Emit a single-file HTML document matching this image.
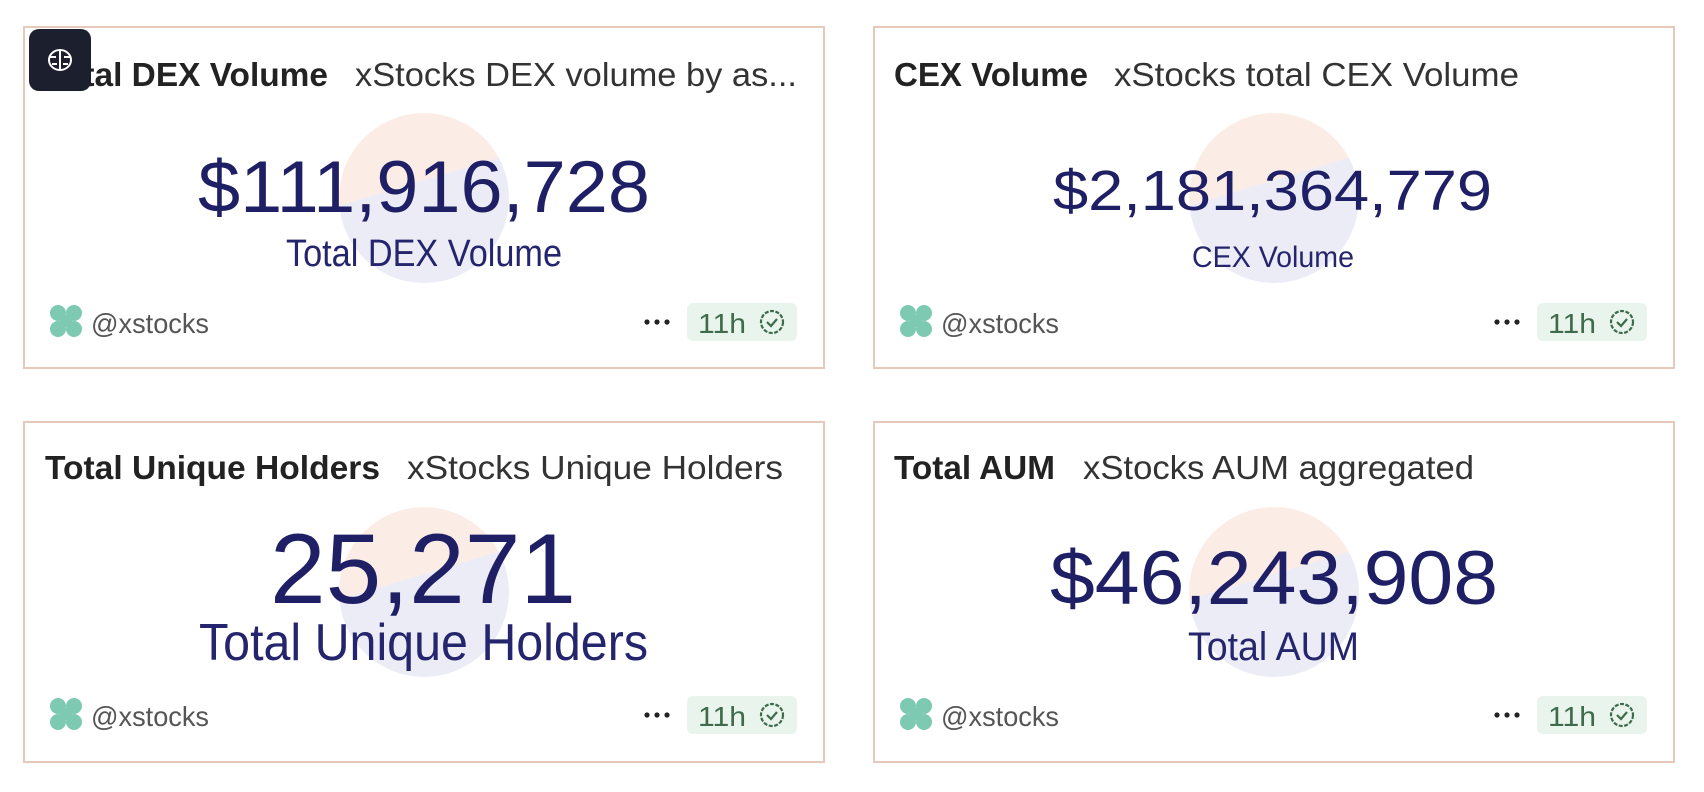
<!DOCTYPE html>
<html><head><meta charset="utf-8"><style>html,body{margin:0;padding:0;background:#fff;}svg{display:block;}</style></head>
<body>
<svg width="1704" height="792" viewBox="0 0 1704 792" xmlns="http://www.w3.org/2000/svg" font-family="'Liberation Sans', sans-serif">
<defs>
<linearGradient id="cg" x1="0" y1="0" x2="0.3" y2="1">
<stop offset="0.5" stop-color="#fbede6"/><stop offset="0.5" stop-color="#ececf6"/>
</linearGradient>
</defs>
<rect width="1704" height="792" fill="#fff"/>

<!-- Card 1 -->
<g transform="translate(24,27)">
<rect x="0" y="0" width="800" height="341" fill="#fff" stroke="#e6c9bb" stroke-width="2"/>
<circle cx="400" cy="171" r="85" fill="url(#cg)"/>
<text x="21" y="59" font-size="33" font-weight="bold" fill="#222" textLength="283" lengthAdjust="spacingAndGlyphs">Total DEX Volume</text>
<text x="331" y="59" font-size="33" fill="#333" textLength="442" lengthAdjust="spacingAndGlyphs">xStocks DEX volume by as...</text>
<text x="174" y="185" font-size="73" fill="#1f1f66" textLength="452" lengthAdjust="spacingAndGlyphs">$111,916,728</text>
<text x="262" y="239" font-size="38" fill="#25256e" textLength="276" lengthAdjust="spacingAndGlyphs">Total DEX Volume</text>
<g transform="translate(42,294)" fill="#7dc9b2"><circle cx="-8" cy="-8" r="8"/><circle cx="8" cy="-8" r="8"/><circle cx="-8" cy="8" r="8"/><circle cx="8" cy="8" r="8"/><rect x="-6" y="-6" width="12" height="12"/></g>
<text x="67" y="306" font-size="28" fill="#555" textLength="118" lengthAdjust="spacingAndGlyphs">@xstocks</text>
<g fill="#222"><circle cx="623" cy="295" r="2.6"/><circle cx="633" cy="295" r="2.6"/><circle cx="643" cy="295" r="2.6"/></g>
<rect x="663" y="276" width="110" height="38" rx="6" fill="#e9f5ec"/>
<text x="674" y="306" font-size="28" fill="#3e6b4c" textLength="48" lengthAdjust="spacingAndGlyphs">11h</text>
<circle cx="748" cy="295" r="11" fill="none" stroke="#3e6b4c" stroke-width="2.2" stroke-dasharray="4 1.5"/>
<path d="M743 295 l4 4 l6 -7" fill="none" stroke="#3e6b4c" stroke-width="2.2"/>
</g>

<!-- Card 2 -->
<g transform="translate(874,27)">
<rect x="0" y="0" width="800" height="341" fill="#fff" stroke="#e6c9bb" stroke-width="2"/>
<circle cx="400" cy="171" r="85" fill="url(#cg)"/>
<text x="20" y="59" font-size="33" font-weight="bold" fill="#222" textLength="194" lengthAdjust="spacingAndGlyphs">CEX Volume</text>
<text x="240" y="59" font-size="33" fill="#333" textLength="405" lengthAdjust="spacingAndGlyphs">xStocks total CEX Volume</text>
<text x="179" y="183" font-size="57" fill="#1f1f66" textLength="439" lengthAdjust="spacingAndGlyphs">$2,181,364,779</text>
<text x="318" y="240" font-size="30" fill="#25256e" textLength="162" lengthAdjust="spacingAndGlyphs">CEX Volume</text>
<g transform="translate(42,294)" fill="#7dc9b2"><circle cx="-8" cy="-8" r="8"/><circle cx="8" cy="-8" r="8"/><circle cx="-8" cy="8" r="8"/><circle cx="8" cy="8" r="8"/><rect x="-6" y="-6" width="12" height="12"/></g>
<text x="67" y="306" font-size="28" fill="#555" textLength="118" lengthAdjust="spacingAndGlyphs">@xstocks</text>
<g fill="#222"><circle cx="623" cy="295" r="2.6"/><circle cx="633" cy="295" r="2.6"/><circle cx="643" cy="295" r="2.6"/></g>
<rect x="663" y="276" width="110" height="38" rx="6" fill="#e9f5ec"/>
<text x="674" y="306" font-size="28" fill="#3e6b4c" textLength="48" lengthAdjust="spacingAndGlyphs">11h</text>
<circle cx="748" cy="295" r="11" fill="none" stroke="#3e6b4c" stroke-width="2.2" stroke-dasharray="4 1.5"/>
<path d="M743 295 l4 4 l6 -7" fill="none" stroke="#3e6b4c" stroke-width="2.2"/>
</g>

<!-- Card 3 -->
<g transform="translate(24,422)">
<rect x="0" y="0" width="800" height="340" fill="#fff" stroke="#e6c9bb" stroke-width="2"/>
<circle cx="400" cy="170" r="85" fill="url(#cg)"/>
<text x="21" y="57" font-size="33" font-weight="bold" fill="#222" textLength="335" lengthAdjust="spacingAndGlyphs">Total Unique Holders</text>
<text x="383" y="57" font-size="33" fill="#333" textLength="376" lengthAdjust="spacingAndGlyphs">xStocks Unique Holders</text>
<text x="246" y="181" font-size="99" fill="#1f1f66" textLength="306" lengthAdjust="spacingAndGlyphs">25,271</text>
<text x="175" y="238" font-size="52" fill="#25256e" textLength="449" lengthAdjust="spacingAndGlyphs">Total Unique Holders</text>
<g transform="translate(42,292)" fill="#7dc9b2"><circle cx="-8" cy="-8" r="8"/><circle cx="8" cy="-8" r="8"/><circle cx="-8" cy="8" r="8"/><circle cx="8" cy="8" r="8"/><rect x="-6" y="-6" width="12" height="12"/></g>
<text x="67" y="304" font-size="28" fill="#555" textLength="118" lengthAdjust="spacingAndGlyphs">@xstocks</text>
<g fill="#222"><circle cx="623" cy="293" r="2.6"/><circle cx="633" cy="293" r="2.6"/><circle cx="643" cy="293" r="2.6"/></g>
<rect x="663" y="274" width="110" height="38" rx="6" fill="#e9f5ec"/>
<text x="674" y="304" font-size="28" fill="#3e6b4c" textLength="48" lengthAdjust="spacingAndGlyphs">11h</text>
<circle cx="748" cy="293" r="11" fill="none" stroke="#3e6b4c" stroke-width="2.2" stroke-dasharray="4 1.5"/>
<path d="M743 293 l4 4 l6 -7" fill="none" stroke="#3e6b4c" stroke-width="2.2"/>
</g>

<!-- Card 4 -->
<g transform="translate(874,422)">
<rect x="0" y="0" width="800" height="340" fill="#fff" stroke="#e6c9bb" stroke-width="2"/>
<circle cx="400" cy="170" r="85" fill="url(#cg)"/>
<text x="20" y="57" font-size="33" font-weight="bold" fill="#222" textLength="161" lengthAdjust="spacingAndGlyphs">Total AUM</text>
<text x="209" y="57" font-size="33" fill="#333" textLength="391" lengthAdjust="spacingAndGlyphs">xStocks AUM aggregated</text>
<text x="176" y="182" font-size="76" fill="#1f1f66" textLength="448" lengthAdjust="spacingAndGlyphs">$46,243,908</text>
<text x="314" y="238" font-size="40" fill="#25256e" textLength="171" lengthAdjust="spacingAndGlyphs">Total AUM</text>
<g transform="translate(42,292)" fill="#7dc9b2"><circle cx="-8" cy="-8" r="8"/><circle cx="8" cy="-8" r="8"/><circle cx="-8" cy="8" r="8"/><circle cx="8" cy="8" r="8"/><rect x="-6" y="-6" width="12" height="12"/></g>
<text x="67" y="304" font-size="28" fill="#555" textLength="118" lengthAdjust="spacingAndGlyphs">@xstocks</text>
<g fill="#222"><circle cx="623" cy="293" r="2.6"/><circle cx="633" cy="293" r="2.6"/><circle cx="643" cy="293" r="2.6"/></g>
<rect x="663" y="274" width="110" height="38" rx="6" fill="#e9f5ec"/>
<text x="674" y="304" font-size="28" fill="#3e6b4c" textLength="48" lengthAdjust="spacingAndGlyphs">11h</text>
<circle cx="748" cy="293" r="11" fill="none" stroke="#3e6b4c" stroke-width="2.2" stroke-dasharray="4 1.5"/>
<path d="M743 293 l4 4 l6 -7" fill="none" stroke="#3e6b4c" stroke-width="2.2"/>
</g>

<!-- brain icon -->
<rect x="29" y="29" width="62" height="62" rx="10" fill="#1c1f2e"/>
<g fill="none" stroke="#fff" stroke-width="2">
<ellipse cx="60" cy="60" rx="11" ry="10"/>
<line x1="60" y1="50" x2="60" y2="70"/>
<path d="M50 57 h6 M64 57 h6 M52 64 h5 M63 64 h5"/>
</g>
</svg>
</body></html>
